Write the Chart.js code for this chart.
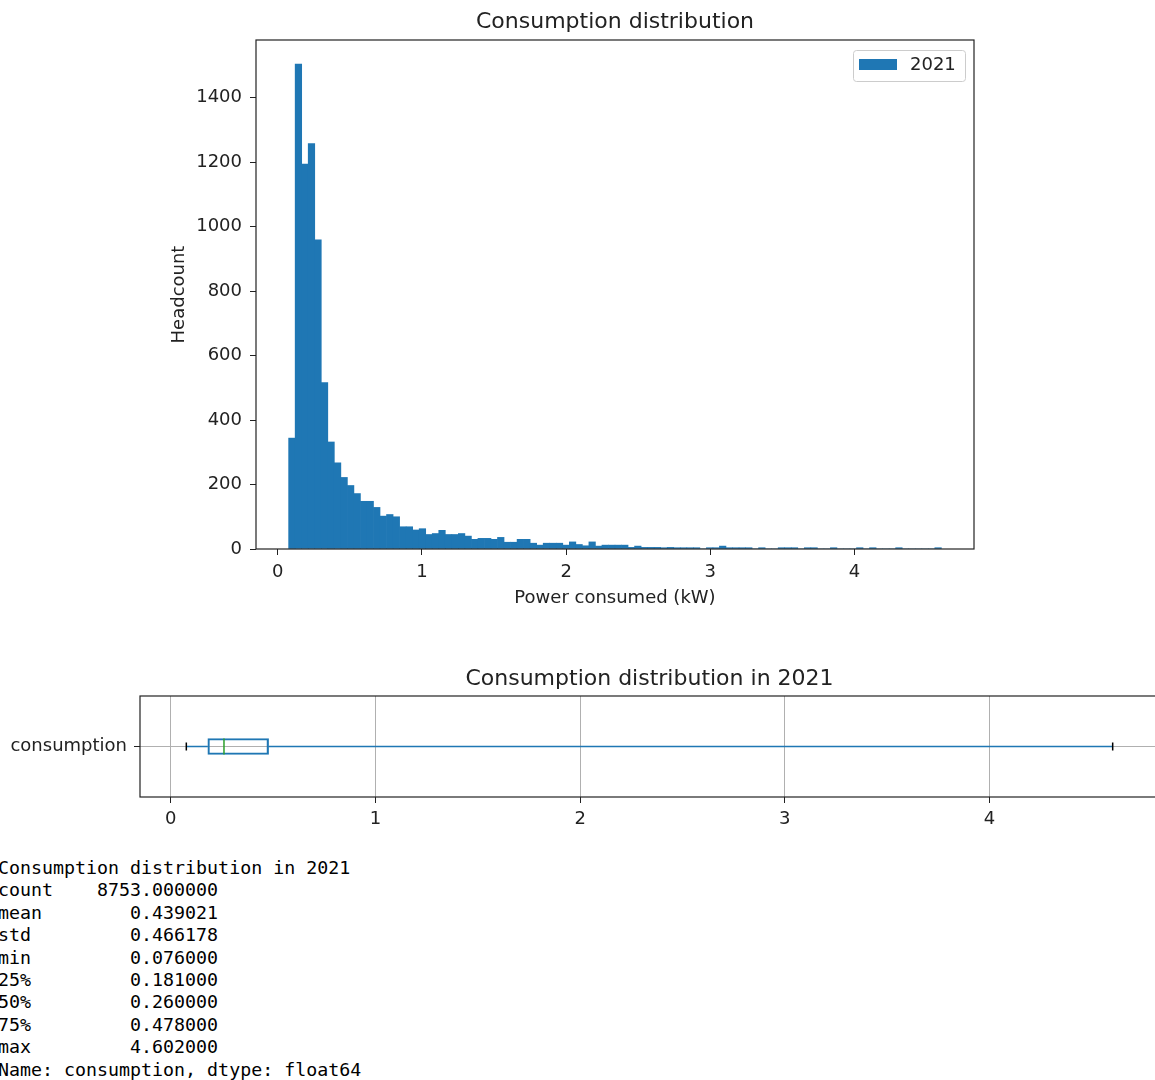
<!DOCTYPE html>
<html>
<head>
<meta charset="utf-8">
<script src="https://cdn.jsdelivr.net/npm/chart.js@4.4.0/dist/chart.umd.min.js"></script>
<style>
  html, body { margin: 0; padding: 0; background: #fff; overflow: hidden; width: 1155px; height: 1080px; }
  #histChart { position: absolute; left: 0; top: 0; }
  #boxChart { position: absolute; left: 0; top: 650px; }
  #summary { position: absolute; left: -2px; top: 857px; margin: 0; font-family: "DejaVu Sans Mono", monospace; font-size: 18.3px; line-height: 22.4px; color: #000; }
</style>
</head>
<body>
<canvas id="histChart" width="1155" height="609"></canvas>
<canvas id="boxChart" width="1170" height="187"></canvas>
<pre id="summary"></pre>
<script>
// histogram counts (100 equal bins from min to max)
const binCounts = [
  344, 1504, 1194, 1258, 959, 516, 332, 267, 222, 197,
  172, 148, 148, 129, 102, 107, 100, 69, 69, 59,
  63, 45, 48, 58, 45, 45, 48, 40, 30, 33,
  33, 30, 36, 21, 21, 30, 30, 18, 12, 18,
  18, 18, 12, 22, 14, 10, 22, 9, 12, 12,
  12, 12, 5, 9, 5, 5, 5, 4, 5, 4,
  4, 4, 4, 0, 4, 4, 9, 4, 4, 4,
  4, 0, 4, 0, 0, 4, 4, 4, 0, 4,
  4, 0, 0, 4, 0, 0, 0, 4, 0, 4,
  0, 0, 0, 4, 0, 0, 0, 0, 0, 4
];
const seriesLabel = "2021";

// describe() output
const statNames = ["count", "mean", "std", "min", "25%", "50%", "75%", "max"];
const statValues = [8753.0, 0.439021, 0.466178, 0.076, 0.181, 0.26, 0.478, 4.602];

const histXTicks = [0, 1, 2, 3, 4];
const histYTicks = [0, 200, 400, 600, 800, 1000, 1200, 1400];
const boxXTicks = [0, 1, 2, 3, 4];
const boxCategories = ["consumption"];

const dataMin = statValues[3];
const dataMax = statValues[7];
const q1 = statValues[4], median = statValues[5], q3 = statValues[6];

const BLUE = "#1f77b4";
const INK = "#222";
const FONT = "'DejaVu Sans', sans-serif";
const TICK_SIZE = 18;
const TITLE_SIZE = 22;

// bin centres
const binWidth = (dataMax - dataMin) / binCounts.length;
const histPoints = binCounts.map((c, i) => ({ x: dataMin + (i + 0.5) * binWidth, y: c }));

Chart.defaults.font.family = FONT;
Chart.defaults.color = INK;

const plainLabel = (v) => String(v);

const framePlugin = {
  id: "frame",
  afterDatasetsDraw(chart) {
    const { ctx, chartArea: a } = chart;
    ctx.save();
    ctx.strokeStyle = INK;
    ctx.lineWidth = 1.2;
    ctx.strokeRect(a.left, a.top, a.right - a.left, a.bottom - a.top);
    ctx.restore();
  }
};

// matplotlib style legend inside the upper right corner
const insideLegend = {
  id: "insideLegend",
  afterDraw(chart) {
    const { ctx, chartArea: a } = chart;
    const w = 112, h = 31;
    const x = a.right - 9 - w, y = a.top + 10;
    ctx.save();
    ctx.fillStyle = "rgba(255,255,255,0.8)";
    ctx.strokeStyle = "#cccccc";
    ctx.lineWidth = 1;
    ctx.beginPath();
    ctx.roundRect(x + 0.5, y + 0.5, w, h, 3);
    ctx.fill();
    ctx.stroke();
    ctx.fillStyle = BLUE;
    ctx.fillRect(x + 6, y + 9, 38, 11);
    ctx.fillStyle = INK;
    ctx.font = TICK_SIZE + "px " + FONT;
    ctx.textBaseline = "middle";
    ctx.fillText(chart.data.datasets[0].label, x + 57, y + 15.5);
    ctx.restore();
  }
};

new Chart(document.getElementById("histChart"), {
  type: "bar",
  data: {
    datasets: [{
      label: seriesLabel,
      data: histPoints,
      backgroundColor: BLUE,
      borderWidth: 0,
      barPercentage: 1,
      categoryPercentage: 1
    }]
  },
  options: {
    responsive: false,
    animation: false,
    layout: { padding: { left: 160, right: 181, top: 0, bottom: 0 } },
    plugins: {
      legend: { display: false },
      tooltip: { enabled: false },
      title: {
        display: true,
        text: "Consumption distribution",
        fullSize: false,
        color: INK,
        font: { size: TITLE_SIZE, weight: "normal", family: FONT },
        padding: { top: 8.6, bottom: 5 }
      }
    },
    scales: {
      x: {
        type: "linear",
        min: -0.1503,
        max: 4.8283,
        offset: false,
        afterFit: (s) => { s.height = 60; },
        afterBuildTicks: (s) => { s.ticks = histXTicks.map((v) => ({ value: v })); },
        grid: { display: true, offset: false, drawOnChartArea: false, drawTicks: true, tickLength: 6, color: INK, tickColor: INK },
        border: { display: false },
        ticks: { font: { size: TICK_SIZE }, padding: 7, maxRotation: 0, color: INK, callback: plainLabel },
        title: { display: true, text: "Power consumed (kW)", font: { size: TICK_SIZE }, padding: { top: 0, bottom: 0 }, color: INK }
      },
      y: {
        min: 0,
        max: 1579,
        afterFit: (s) => { s.width = 96; },
        afterBuildTicks: (s) => { s.ticks = histYTicks.map((v) => ({ value: v })); },
        grid: { display: true, drawOnChartArea: false, drawTicks: true, tickLength: 6, color: INK, tickColor: INK },
        border: { display: false },
        ticks: { font: { size: TICK_SIZE }, padding: 8, color: INK, callback: plainLabel },
        title: { display: true, text: "Headcount", font: { size: TICK_SIZE }, padding: { top: 9, bottom: 0 }, color: INK }
      }
    }
  },
  plugins: [framePlugin, insideLegend]
});

// whiskers, caps and median drawn through the chart's scales
const boxExtras = {
  id: "boxExtras",
  afterDatasetsDraw(chart) {
    const { ctx } = chart;
    const xs = chart.scales.x, ys = chart.scales.y;
    const cy = ys.getPixelForValue(0);
    const px = (v) => xs.getPixelForValue(v);
    ctx.save();
    ctx.lineWidth = 1.5;
    ctx.strokeStyle = BLUE;
    ctx.beginPath();
    ctx.moveTo(px(dataMin), cy); ctx.lineTo(px(q1), cy);
    ctx.moveTo(px(q3), cy); ctx.lineTo(px(dataMax), cy);
    ctx.stroke();
    ctx.strokeStyle = "#000";
    ctx.beginPath();
    ctx.moveTo(px(dataMin), cy - 4); ctx.lineTo(px(dataMin), cy + 4);
    ctx.moveTo(px(dataMax), cy - 4); ctx.lineTo(px(dataMax), cy + 4);
    ctx.stroke();
    ctx.strokeStyle = "#2ca02c";
    ctx.beginPath();
    ctx.moveTo(px(median), cy - 8); ctx.lineTo(px(median), cy + 8);
    ctx.stroke();
    ctx.restore();
  }
};

new Chart(document.getElementById("boxChart"), {
  type: "bar",
  data: {
    labels: boxCategories,
    datasets: [{
      label: "consumption",
      data: [[q1, q3]],
      backgroundColor: "rgba(0,0,0,0)",
      borderColor: BLUE,
      borderWidth: 1.5,
      borderSkipped: false,
      barThickness: 16
    }]
  },
  options: {
    indexAxis: "y",
    responsive: false,
    animation: false,
    layout: { padding: { left: 0, right: 11, top: 0, bottom: 0 } },
    plugins: {
      legend: { display: false },
      tooltip: { enabled: false },
      title: {
        display: true,
        text: "Consumption distribution in 2021",
        fullSize: false,
        color: INK,
        font: { size: TITLE_SIZE, weight: "normal", family: FONT },
        padding: { top: 15.6, bottom: 4 }
      }
    },
    scales: {
      x: {
        type: "linear",
        min: -0.1503,
        max: 4.8283,
        afterFit: (s) => { s.height = 40; },
        afterBuildTicks: (s) => { s.ticks = boxXTicks.map((v) => ({ value: v })); },
        grid: { color: "#b0b0b0", lineWidth: 1, tickColor: INK, tickLength: 6 },
        border: { display: false },
        ticks: { font: { size: TICK_SIZE }, padding: 6, maxRotation: 0, color: INK, callback: plainLabel }
      },
      y: {
        afterFit: (s) => { s.width = 140; },
        grid: { color: "#b0b0b0", lineWidth: 1, tickColor: INK, tickLength: 6, offset: false },
        border: { display: false },
        ticks: { font: { size: TICK_SIZE }, padding: 7, color: INK }
      }
    }
  },
  plugins: [framePlugin, boxExtras]
});

// pandas describe() printout
const lines = ["Consumption distribution in 2021"];
statNames.forEach((n, i) => lines.push(n.padEnd(5) + statValues[i].toFixed(6).padStart(15)));
lines.push("Name: consumption, dtype: float64");
document.getElementById("summary").textContent = lines.join("\n");
</script>
</body>
</html>
